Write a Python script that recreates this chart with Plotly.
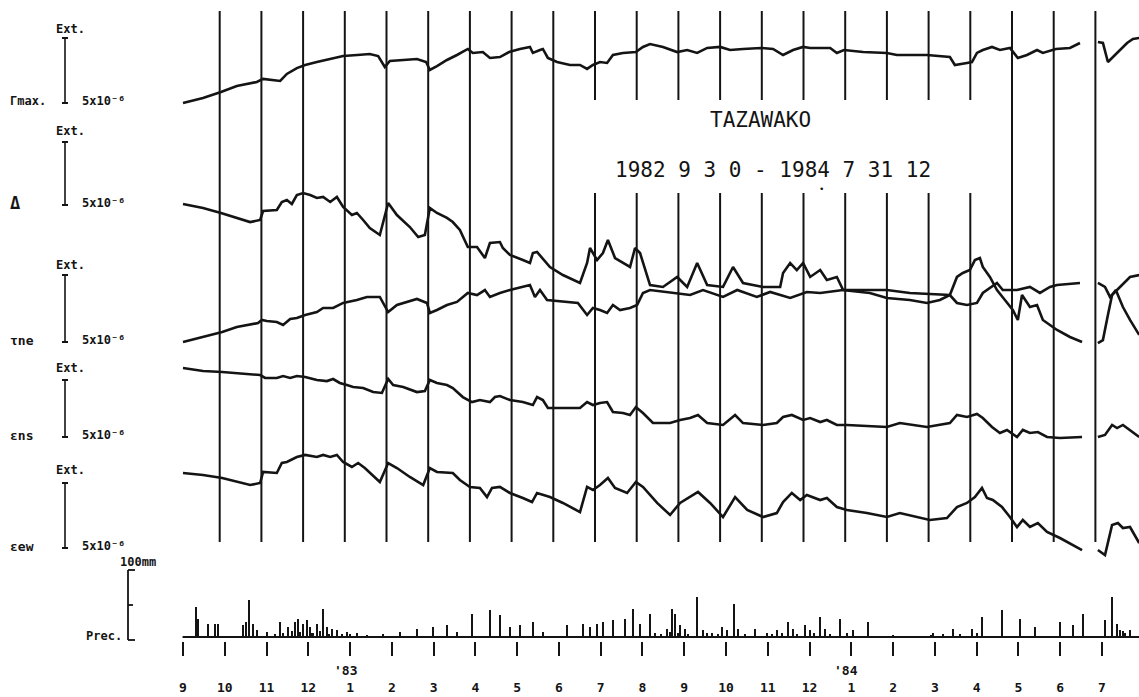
import plotly.graph_objects as go

# ---------------- data ----------------
# time in months since 1982-09-01 ; strain in units of 1e-6 (relative to start, + = extension)
MONTH_TICKS = list(range(23))
MONTH_LABELS = ["9", "10", "11", "12", "1", "2", "3", "4", "5", "6", "7", "8",
                "9", "10", "11", "12", "1", "2", "3", "4", "5", "6", "7"]
YEAR_LABELS = ["'83", "'84"]
YEAR_TICKS = [4, 16]
MONTH_LINES = list(range(1, 23))

GMAX_T = [0.12, 0.60, 1.03, 1.41, 1.89, 2.04, 2.45, 2.61, 2.85, 3.05, 3.33, 3.65, 3.96, 4.30, 4.60, 4.80,
          4.96, 5.08, 5.40, 5.73, 5.95, 6.04, 6.21, 6.45, 6.69, 6.95, 7.07, 7.31, 7.48, 7.72, 7.94, 8.20,
          8.44, 8.51, 8.68, 8.75, 8.87, 9.09, 9.40, 9.64, 9.81, 9.95, 10.12, 10.29, 10.43, 10.67, 10.98,
          11.15, 11.32, 11.63, 11.97, 12.21, 12.45, 12.69, 13.00, 13.24, 13.55, 13.98, 14.27, 14.51, 14.75,
          14.99, 15.16, 15.40, 15.64, 15.80, 15.97, 16.43, 17.00, 17.24, 17.96, 18.51, 18.63, 18.92, 19.04,
          19.16, 19.30, 19.52, 19.71, 19.95, 20.14, 20.36, 20.60, 20.74, 21.05, 21.39, 21.63, None,
          22.06, 22.18, 22.30, 22.42, 22.59, 22.76, 22.90, 23.05]
GMAX_V = [0, 0.39, 0.86, 1.33, 1.64, 1.88, 1.72, 2.27, 2.73, 2.97, 3.20, 3.44, 3.67, 3.75, 3.83, 3.67,
          2.81, 3.28, 3.36, 3.44, 3.20, 2.58, 2.89, 3.36, 3.75, 4.22, 3.91, 3.98, 3.52, 3.59, 3.98, 4.22,
          4.38, 3.91, 4.14, 4.22, 3.52, 3.20, 2.97, 2.97, 2.66, 2.97, 3.20, 3.13, 3.75, 3.91, 3.98,
          4.38, 4.61, 4.38, 3.98, 4.14, 3.91, 4.30, 4.38, 4.14, 4.22, 4.30, 4.22, 3.75, 4.14,
          4.38, 4.30, 4.30, 4.30, 3.91, 4.14, 3.98, 3.91, 3.75, 3.75, 3.59, 2.97, 3.13, 3.20,
          3.91, 4.14, 4.38, 4.14, 4.30, 3.52, 3.75, 4.14, 3.91, 4.22, 4.30, 4.69, None,
          4.77, 4.69, 3.20, 3.59, 4.14, 4.69, 5.00, 5.08]

DELTA_T = [0.12, 0.60, 1.03, 1.41, 1.73, 1.97, 2.04, 2.37, 2.49, 2.61, 2.73, 2.85, 3.00, 3.17, 3.33, 3.48,
           3.65, 3.81, 3.96, 4.17, 4.29, 4.44, 4.60, 4.84, 5.04, 5.25, 5.56, 5.76, 5.92, 6.04, 6.21, 6.45,
           6.59, 6.76, 6.95, 7.17, 7.36, 7.48, 7.72, 7.79, 7.96, 8.27, 8.44, 8.51, 8.61, 8.92, 9.23, 9.64,
           9.81, 9.88, 10.05, 10.19, 10.31, 10.48, 10.67, 10.84, 10.96, 11.08, 11.32, 11.63, 11.97, 12.21,
           12.45, 12.69, 13.07, 13.31, 13.55, 14.03, 14.44, 14.51, 14.68, 14.84, 14.99, 15.16, 15.40, 15.56,
           15.80, 15.95, 16.59, 17.00, 17.55, 17.96, 18.27, 18.51, 18.68, 18.82, 18.99, 19.11, 19.23, 19.30,
           19.47, 19.64, 19.83, 20.02, 20.14, 20.24, 20.43, 20.60, 20.74, 21.08, 21.39, 21.68, None,
           22.06, 22.18, 22.30, 22.40, 22.49, 22.66, 22.83, 23.05]
DELTA_V = [0, -0.31, -0.70, -1.09, -1.41, -1.25, -0.55, -0.47, 0.16, 0.31, 0, 0.70, 0.86, 0.70, 0.47, 0.55,
           0.16, 0.55, -0.23, -0.86, -0.70, -1.25, -1.88, -2.42, 0.08, -0.86, -1.80, -2.58, -2.42, -0.31, -0.70, -1.09,
           -1.41, -2.03, -3.36, -3.36, -4.22, -3.05, -2.97, -3.44, -3.98, -4.38, -4.61, -3.83, -3.75, -4.92, -5.55, -6.17,
           -4.61, -3.44, -4.38, -3.83, -2.81, -4.22, -4.61, -4.92, -3.44, -3.83, -6.33, -6.48, -5.70, -6.48,
           -4.61, -6.33, -6.48, -4.92, -6.17, -6.48, -6.48, -5.39, -4.61, -5.16, -4.61, -5.70, -5.16, -5.94,
           -5.70, -6.72, -6.95, -7.34, -7.50, -7.73, -7.50, -7.11, -5.70, -5.39, -5.16, -4.38, -4.22, -4.92,
           -5.70, -6.72, -7.50, -8.28, -9.06, -7.11, -8.05, -7.89, -9.06, -9.84, -10.39, -10.78, None,
           -10.86, -10.63, -8.67, -7.11, -6.72, -8.05, -9.06, -10.23]

TAU_T = [0.12, 0.60, 1.06, 1.41, 1.92, 2.01, 2.13, 2.37, 2.52, 2.69, 2.85, 3.05, 3.33, 3.48, 3.72, 3.96,
         4.29, 4.53, 4.84, 5.04, 5.25, 5.73, 5.97, 6.04, 6.21, 6.45, 6.69, 6.95, 7.17, 7.36, 7.48, 7.72,
         7.96, 8.44, 8.56, 8.68, 8.85, 9.59, 9.81, 9.95, 10.12, 10.29, 10.43, 10.60, 10.84, 11.01, 11.15,
         11.32, 11.97, 12.28, 12.59, 13.07, 13.41, 13.88, 14.20, 14.68, 15.08, 15.40, 15.95, 17.00, 17.55,
         18.51, 18.68, 18.92, 19.16, 19.30, 19.64, 19.78, 20.12, 20.43, 20.67, 20.91, 21.08, 21.63, None,
         22.06, 22.23, 22.35, 22.59, 22.83, 23.05]
TAU_V = [0, 0.39, 0.78, 1.17, 1.48, 1.72, 1.64, 1.56, 1.33, 1.80, 1.88, 2.11, 2.34, 2.66, 2.66, 3.05,
         3.28, 3.52, 3.52, 2.34, 2.89, 3.36, 3.05, 2.27, 2.50, 2.89, 3.13, 3.83, 3.67, 4.06, 3.52, 3.83,
         4.06, 4.45, 3.52, 4.06, 3.28, 3.05, 2.11, 2.66, 2.50, 2.27, 2.89, 2.50, 2.66, 2.89, 3.83,
         4.06, 3.83, 3.67, 4.06, 3.52, 4.06, 3.52, 3.91, 3.44, 3.91, 3.83, 4.06, 4.06, 3.83,
         3.67, 3.05, 2.89, 3.05, 3.83, 4.61, 4.06, 4.06, 4.30, 3.83, 4.30, 4.45, 4.61, None,
         4.61, 4.30, 3.52, 4.30, 5.08, 5.23]

ENS_T = [0.12, 0.60, 1.06, 1.41, 1.97, 2.09, 2.37, 2.52, 2.69, 2.85, 3.05, 3.33, 3.57, 3.72, 3.88, 4.05,
         4.20, 4.44, 4.68, 4.89, 5.04, 5.16, 5.40, 5.73, 5.92, 6.04, 6.21, 6.45, 6.59, 6.83, 7.05, 7.24,
         7.48, 7.60, 7.72, 7.96, 8.27, 8.51, 8.61, 8.75, 8.87, 9.64, 9.81, 9.95, 10.12, 10.29, 10.43, 10.67,
         10.84, 10.98, 11.15, 11.39, 11.80, 12.04, 12.28, 12.47, 12.69, 13.07, 13.36, 13.55, 14.03, 14.36,
         14.51, 14.72, 14.99, 15.16, 15.40, 15.56, 15.80, 16.04, 17.00, 17.31, 17.96, 18.51, 18.68, 18.92,
         19.16, 19.30, 19.52, 19.71, 19.88, 20.12, 20.26, 20.43, 20.62, 20.84, 21.15, 21.68, None,
         22.06, 22.23, 22.40, 22.52, 22.66, 22.83, 23.05]
ENS_V = [0, -0.23, -0.31, -0.39, -0.55, -0.78, -0.78, -0.63, -0.78, -0.63, -0.70, -0.94, -1.02, -0.86, -1.17, -1.33,
         -1.48, -1.56, -1.88, -1.95, -0.86, -1.33, -1.48, -1.88, -1.80, -0.94, -1.17, -1.33, -1.56, -2.27, -2.66, -2.50,
         -2.66, -2.27, -2.19, -2.50, -2.66, -2.89, -2.27, -2.50, -3.13, -3.13, -2.66, -2.89, -2.73, -2.66, -3.44, -3.52,
         -3.67, -3.05, -3.52, -4.30, -4.30, -4.06, -3.91, -3.67, -4.30, -4.45, -3.67, -4.30, -4.45, -4.30,
         -3.83, -3.67, -4.06, -3.91, -4.22, -4.06, -4.45, -4.45, -4.61, -4.30, -4.61, -4.30, -3.67, -3.83,
         -3.59, -3.91, -4.61, -5.08, -4.84, -5.39, -4.84, -5.08, -5.00, -5.39, -5.47, -5.39, None,
         -5.39, -5.23, -4.45, -4.69, -4.45, -4.84, -5.39]

EEW_T = [0.12, 0.60, 1.06, 1.41, 1.73, 1.97, 2.04, 2.37, 2.49, 2.61, 2.85, 3.05, 3.33, 3.48, 3.65, 3.81,
         3.96, 4.17, 4.32, 4.48, 4.84, 5.04, 5.25, 5.56, 5.88, 6.04, 6.21, 6.59, 6.76, 7.00, 7.24, 7.41,
         7.53, 7.72, 7.96, 8.27, 8.49, 8.61, 8.92, 9.23, 9.64, 9.81, 9.95, 10.12, 10.31, 10.48, 10.77, 10.98,
         11.15, 11.49, 11.80, 12.04, 12.28, 12.47, 12.76, 13.07, 13.36, 13.65, 14.03, 14.36, 14.51, 14.72,
         14.92, 15.08, 15.40, 15.56, 15.80, 16.04, 16.52, 17.00, 17.31, 18.03, 18.44, 18.68, 18.92, 19.11,
         19.28, 19.40, 19.54, 19.76, 19.95, 20.12, 20.26, 20.43, 20.62, 20.84, 21.15, 21.68, None,
         22.06, 22.23, 22.40, 22.54, 22.66, 22.83, 23.05]
EEW_V = [0, -0.16, -0.39, -0.70, -0.94, -0.78, 0.08, 0, 0.78, 0.86, 1.25, 1.41, 1.25, 1.41, 1.25, 1.41,
         0.86, 0.47, 0.78, 0.39, -0.70, 0.78, 0.39, -0.31, -0.94, 0.39, 0.08, 0, -0.55, -1.09, -1.17, -1.88,
         -1.17, -1.09, -1.56, -1.95, -2.27, -1.56, -1.88, -2.34, -3.05, -1.09, -1.33, -0.94, -0.39, -1.17, -1.56, -0.70,
         -1.09, -2.34, -3.28, -2.34, -1.88, -1.48, -2.34, -3.44, -1.88, -2.89, -3.44, -3.13, -2.27, -1.56,
         -2.11, -1.72, -2.11, -1.95, -2.66, -2.89, -3.13, -3.44, -3.13, -3.67, -3.52, -2.66, -2.34, -1.88,
         -1.17, -1.95, -2.11, -2.66, -3.44, -4.22, -3.67, -4.22, -3.91, -4.61, -5.08, -6.02, None,
         -6.02, -6.41, -4.06, -3.91, -4.30, -4.22, -5.47]

# precipitation (mm), months since 1982-09-01
PREC_T = [0.31, 0.36, 0.60, 0.77, 0.84, 1.44, 1.51, 1.58, 1.68, 1.77, 2.01, 2.32, 2.51, 2.68, 2.75,
          2.87, 2.97, 3.04, 3.21, 3.35, 3.45, 3.57, 3.69, 3.93, 4.17, 4.79, 5.20, 5.60, 5.99, 6.32,
          6.56, 6.92, 7.35, 7.59, 7.83, 8.07, 8.38, 8.62, 9.19, 9.58, 9.74, 9.91, 10.06, 10.29, 10.58,
          10.77, 10.94, 11.18, 11.59, 11.71, 11.78, 11.90, 12.02, 12.31, 12.45, 12.66, 12.90, 13.02, 13.19,
          13.29, 13.69, 13.98, 14.22, 14.48, 14.60, 14.89, 15.01, 15.25, 15.37, 15.73, 16.04, 16.40, 17.00,
          17.96, 18.43, 18.89, 19.13, 19.61, 20.04, 20.40, 21.00, 21.31, 21.55, 22.07, 22.24, 22.36, 22.43,
          22.67,
          2.20, 2.40, 2.60, 2.80, 3.10, 3.28, 3.50, 3.80, 4.00, 4.40, 11.30, 11.45, 11.65, 11.85, 12.10,
          12.55, 12.80, 13.45, 14.10, 14.35, 14.70, 15.10, 15.50, 15.90, 17.90, 18.20, 18.60, 19.00,
          22.50, 22.55]
PREC_MM = [43, 26, 19, 19, 19, 17, 21, 53, 19, 10, 7, 21, 14, 21, 26,
           19, 24, 14, 19, 40, 14, 11, 10, 7, 6, 4, 7, 11, 14, 17,
           7, 33, 39, 31, 14, 17, 21, 7, 17, 19, 14, 19, 21, 24, 26,
           40, 19, 33, 11, 40, 33, 17, 11, 57, 10, 6, 14, 10, 47,
           11, 11, 6, 10, 21, 11, 17, 10, 29, 11, 26, 10, 21, 3,
           6, 11, 11, 29, 39, 26, 14, 21, 17, 33, 24, 57, 19, 10,
           10,
           5, 6, 8, 7, 6, 8, 5, 4, 4, 3, 6, 5, 7, 6, 4,
           6, 5, 4, 5, 6, 5, 6, 5, 6, 3, 4, 5, 6,
           8, 6]

SERIES = [("Γmax", GMAX_T, GMAX_V), ("Δ", DELTA_T, DELTA_V), ("τne", TAU_T, TAU_V),
          ("εns", ENS_T, ENS_V), ("εew", EEW_T, EEW_V)]
LABELS = ["Γmax.", "Δ", "τne", "εns", "εew"]

# ---------------- layout constants ----------------
W, H = 1139, 697
INK = "#141414"
FONT = "DejaVu Sans Mono"
PX_PER_UNIT = 12.8           # pixels per 1e-6 strain
BASE_PX = [103, 204, 342, 368, 473]   # vertical start of each trace (pixels from top)
MAIN_BOTTOM = 560
PREC_TOP, PREC_AXIS, PREC_ZERO = 560, 641, 637
PREC_PX_PER_MM = 0.7


def xp(x):
    return x / W


def yp(y):
    return 1 - y / H


fig = go.Figure()

for (name, t, v), base in zip(SERIES, BASE_PX):
    off = -base / PX_PER_UNIT
    fig.add_trace(go.Scatter(
        x=t, y=[None if a is None else off + a for a in v], mode="lines", name=name,
        line=dict(color=INK, width=2.6), connectgaps=False, hoverinfo="skip",
        xaxis="x", yaxis="y"))

fig.add_trace(go.Bar(x=PREC_T, y=PREC_MM, width=0.05, marker=dict(color=INK, line=dict(width=0)),
                     xaxis="x2", yaxis="y2", hoverinfo="skip"))
fig.add_trace(go.Scatter(x=[-0.01, 23.2], y=[0, 0], mode="lines", line=dict(color=INK, width=2.2),
                         xaxis="x2", yaxis="y2", hoverinfo="skip"))

shapes = []
# month boundary lines in the main panel
for m in MONTH_LINES:
    if 10 <= m <= 19:
        segs = [(542, 193), (100, 11)]
    else:
        segs = [(542, 11)]
    for a, b in segs:
        shapes.append(dict(type="line", xref="x", yref="paper", x0=m, x1=m, y0=yp(a), y1=yp(b),
                           line=dict(color=INK, width=2)))

# scale bars
BARS = [(38, 103), (142, 205), (275, 342), (380, 437), (483, 548)]
for top, bot in BARS:
    shapes.append(dict(type="line", xref="paper", yref="paper", x0=xp(65), x1=xp(65),
                       y0=yp(top), y1=yp(bot), line=dict(color=INK, width=1.6)))
    for yy in (top, bot):
        shapes.append(dict(type="line", xref="paper", yref="paper", x0=xp(62), x1=xp(68),
                           y0=yp(yy), y1=yp(yy), line=dict(color=INK, width=2)))

# precipitation bracket
shapes.append(dict(type="line", xref="paper", yref="paper", x0=xp(128), x1=xp(128), y0=yp(570), y1=yp(640),
                   line=dict(color=INK, width=1.8)))
for yy, ln in ((570, 7), (605, 5), (640, 7)):
    shapes.append(dict(type="line", xref="paper", yref="paper", x0=xp(128), x1=xp(128 + ln),
                       y0=yp(yy), y1=yp(yy), line=dict(color=INK, width=1.8)))

ann = []


def txt(text, x, y, size=12, xanchor="left", weight="normal"):
    ann.append(dict(text=text, x=xp(x), y=yp(y), xref="paper", yref="paper", showarrow=False,
                    xanchor=xanchor, yanchor="middle",
                    font=dict(family=FONT, size=size, color=INK, weight=weight)))


LABEL_SIZES = [12, 17, 13, 13, 13]
EXT_Y = [29, 131, 265, 368, 470]
for (top, bot), lab, ls, ey in zip(BARS, LABELS, LABEL_SIZES, EXT_Y):
    txt("Ext.", 70, ey, size=12, xanchor="center", weight="bold")
    txt(lab, 8, bot - 2, size=ls, weight="bold")
    txt("5x10⁻⁶", 80, bot - 2, size=12, weight="bold")

txt("100mm", 118, 562, size=12, weight="bold")
txt("Prec.", 124, 636, size=12, xanchor="right", weight="bold")

txt("TAZAWAKO", 760, 120, size=21, xanchor="center")
txt("1982 9 3 0 - 1984 7 31 12", 773, 170, size=21, xanchor="center")
txt("•", 821, 189, size=9, xanchor="center")

for lab, m in zip(YEAR_LABELS, YEAR_TICKS):
    ann.append(dict(text=lab, x=m, y=yp(670), xref="x2", yref="paper", showarrow=False, xshift=-5,
                    xanchor="center", yanchor="middle",
                    font=dict(family=FONT, size=13, color=INK, weight="bold")))

fig.update_layout(
    width=W, height=H, margin=dict(l=0, r=0, t=0, b=0),
    paper_bgcolor="white", plot_bgcolor="white", showlegend=False, bargap=0,
    shapes=shapes, annotations=ann,
    xaxis=dict(domain=[0, 1], range=[-178 / 41.7, (W - 178) / 41.7], visible=False, anchor="y"),
    yaxis=dict(domain=[yp(MAIN_BOTTOM), 1], range=[-MAIN_BOTTOM / PX_PER_UNIT, 0], visible=False, anchor="x"),
    xaxis2=dict(domain=[0, 1], range=[-183 / 41.77, (W - 183) / 41.77], anchor="y2",
                tickmode="array", tickvals=MONTH_TICKS, ticktext=MONTH_LABELS,
                ticks="outside", ticklen=14, tickwidth=2, tickcolor=INK,
                showline=False, showgrid=False, zeroline=False, ticklabelstandoff=20,
                tickfont=dict(family=FONT, size=13, color=INK, weight="bold")),
    yaxis2=dict(domain=[yp(PREC_AXIS), yp(PREC_TOP)],
                range=[-(PREC_AXIS - PREC_ZERO) / PREC_PX_PER_MM, (PREC_ZERO - PREC_TOP) / PREC_PX_PER_MM],
                visible=False, anchor="x2"),
)

fig.write_html("out.html")
